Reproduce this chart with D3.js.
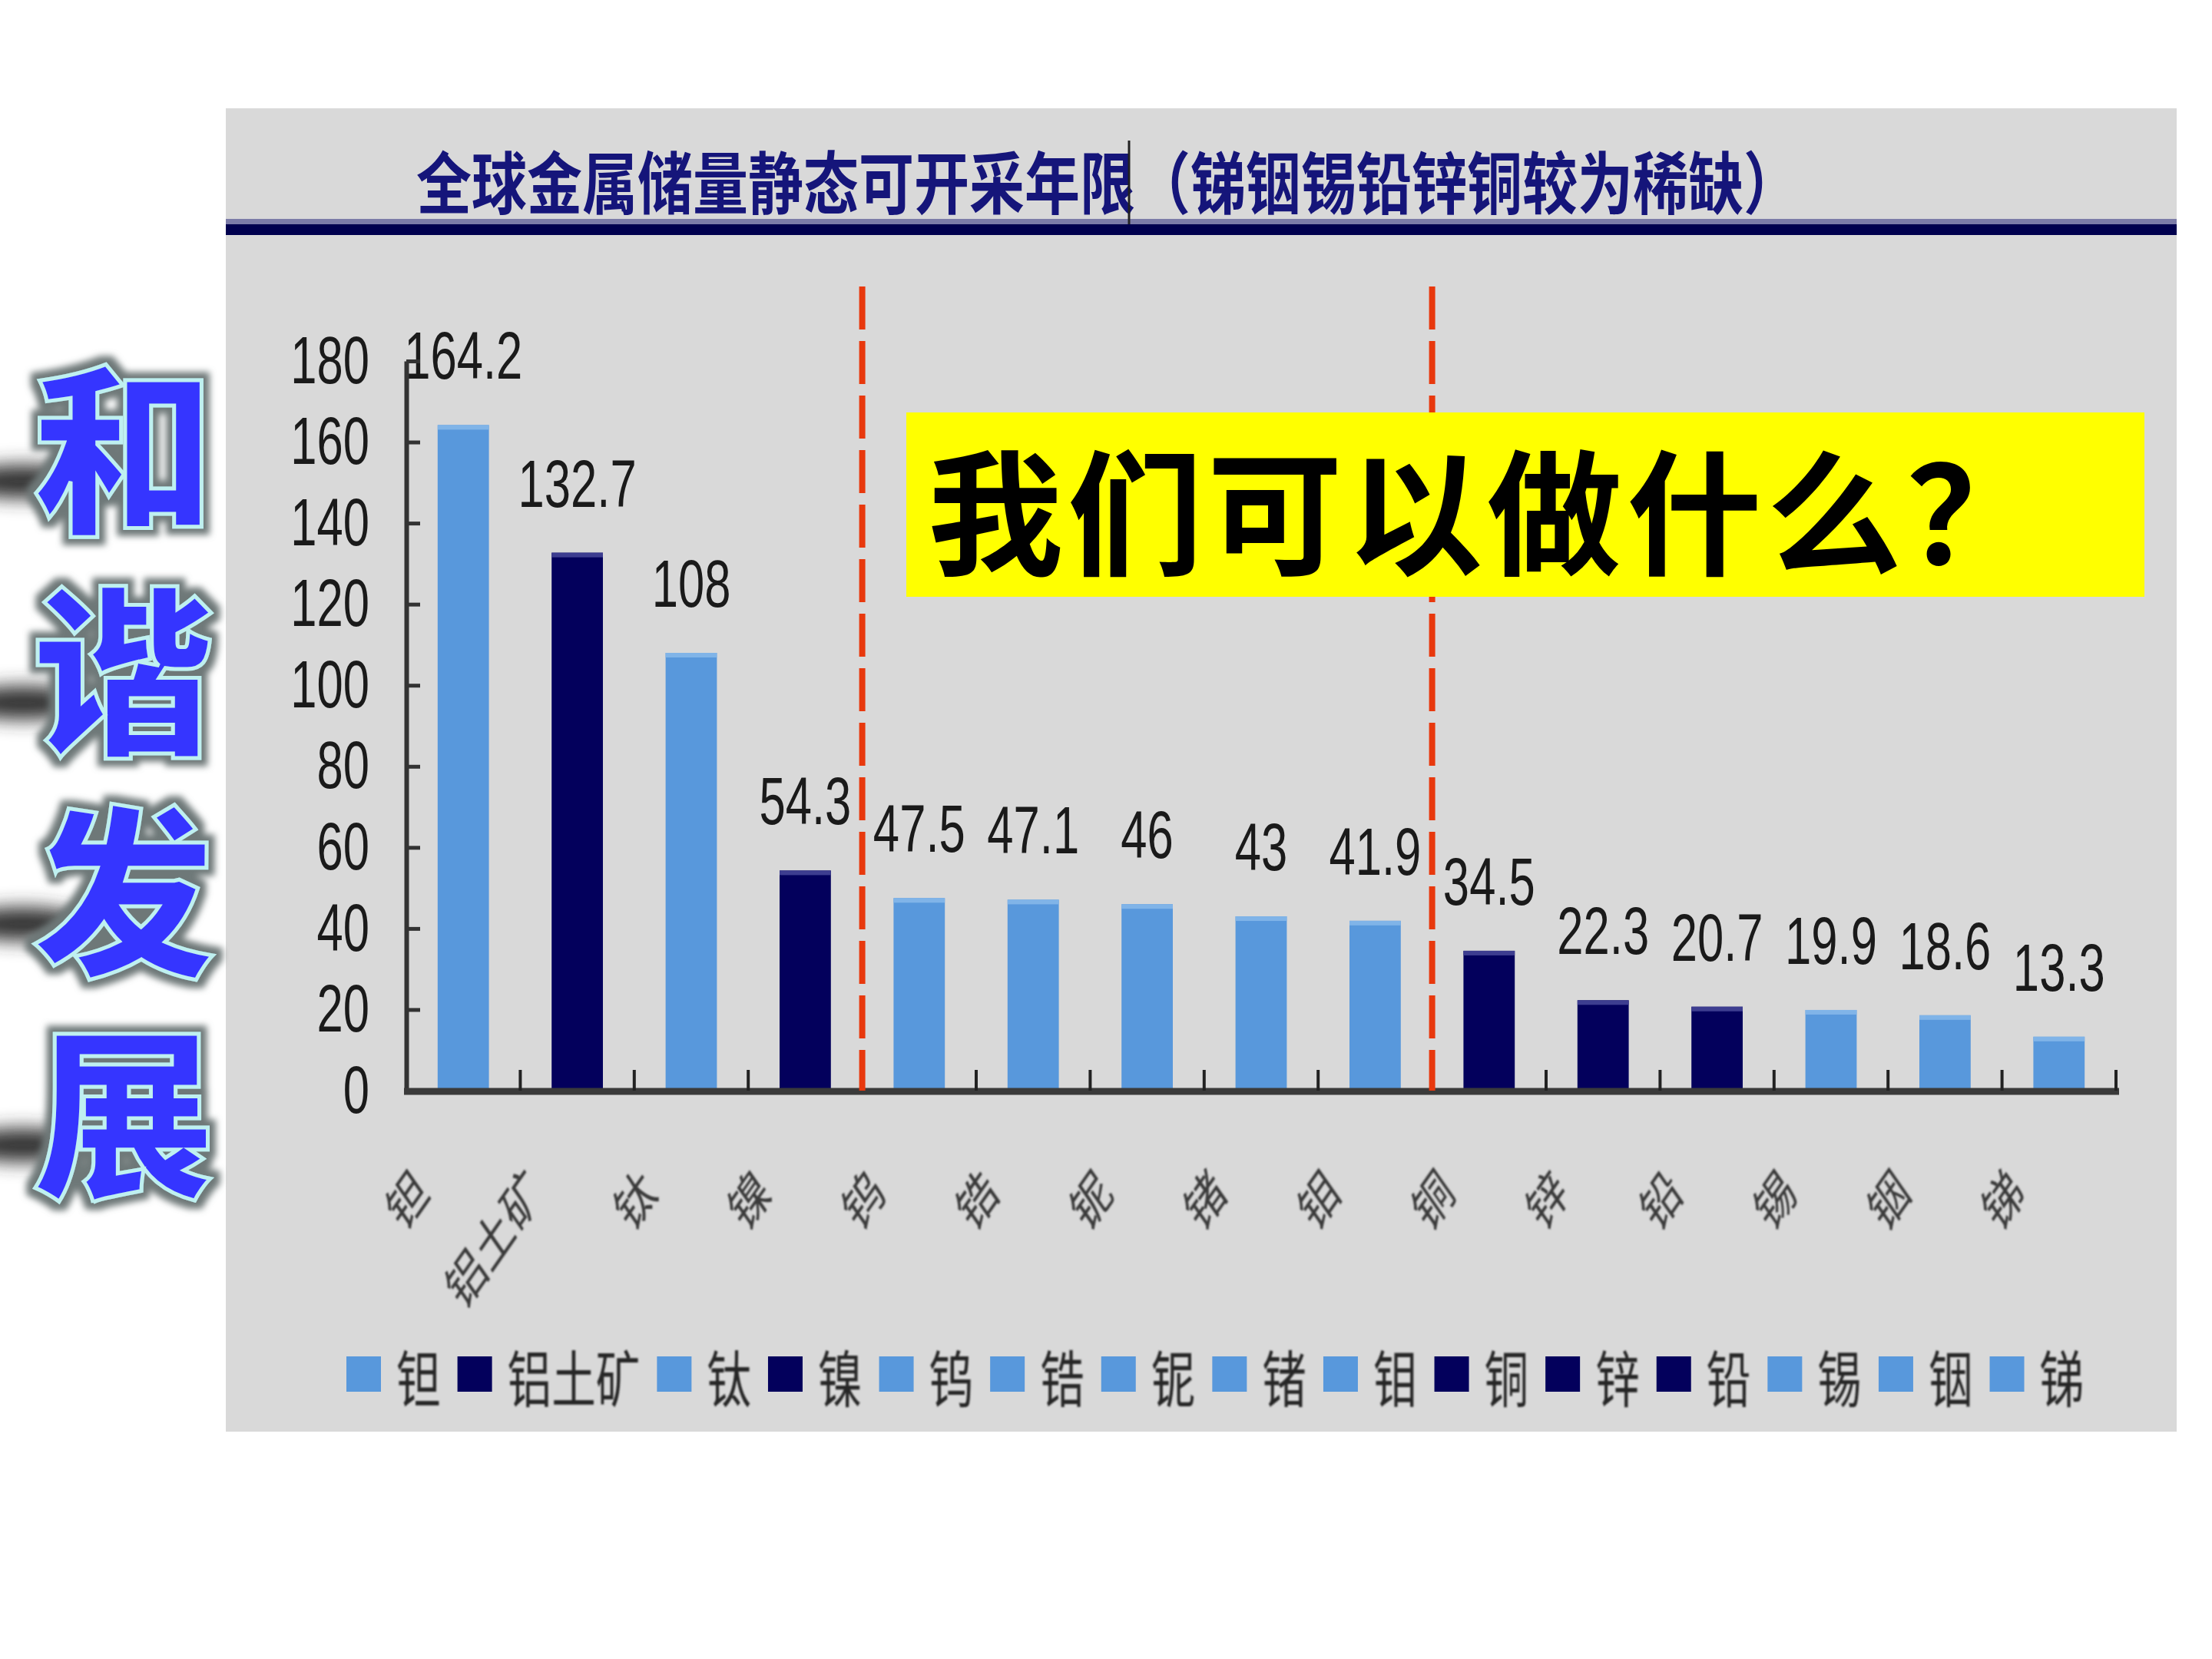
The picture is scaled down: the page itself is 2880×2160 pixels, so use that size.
<!DOCTYPE html>
<meta charset="utf-8">
<style>
body { margin: 0; background: #fff; }
svg { display: block; }
text { font-family: "Liberation Sans", Arial, sans-serif; }
.cjk { font-family: "Noto Sans CJK SC", sans-serif; }
</style>
<body>
<script src="https://d3js.org/d3.v7.min.js"></script>
<script>

// values
var categories = ["钽", "铝土矿", "钛", "镍", "钨", "锆", "铌", "锗", "钼", "铜", "锌", "铅", "锡", "铟", "锑"];
var values = [164.2, 132.7, 108, 54.3, 47.5, 47.1, 46, 43, 41.9, 34.5, 22.3, 20.7, 19.9, 18.6, 13.3];
var shades = ["light", "dark", "light", "dark", "light", "light", "light", "light", "light",
              "dark", "dark", "dark", "light", "light", "light"];
var dividers = ["镍", "钼"];   // red dashed line right after these
var yTicks = [0, 20, 40, 60, 80, 100, 120, 140, 160, 180];
var title = "全球金属储量静态可开采年限（锑铟锡铅锌铜较为稀缺）";
var question = "我们可以做什么？";
var sideWords = ["和", "谐", "发", "展"];

var W = 2880, H = 2160;
var colour = {light: "#5898dc", dark: "#03005c"};
var topEdge = {light: "#80b4e8", dark: "#3d3d90"};

var data = categories.map(function(c, i) { return {cat: c, v: values[i], shade: shades[i]}; });

var svg = d3.select("body").append("svg")
    .attr("width", W)
    .attr("height", H);

var defs = svg.append("defs");
var glow = defs.append("filter").attr("id", "glow")
    .attr("x", "-20%").attr("y", "-20%").attr("width", "140%").attr("height", "140%");
glow.append("feMorphology").attr("in", "SourceAlpha").attr("operator", "dilate").attr("radius", 8).attr("result", "d");
glow.append("feGaussianBlur").attr("in", "d").attr("stdDeviation", 4).attr("result", "b");
glow.append("feFlood").attr("flood-color", "#6e7878");
glow.append("feComposite").attr("in2", "b").attr("operator", "in").attr("result", "g");
var m = glow.append("feMerge");
m.append("feMergeNode").attr("in", "g");
m.append("feMergeNode").attr("in", "SourceGraphic");

defs.append("filter").attr("id", "smudge")
    .attr("x", "-50%").attr("y", "-100%").attr("width", "200%").attr("height", "300%")
  .append("feGaussianBlur").attr("stdDeviation", 12);

defs.append("filter").attr("id", "soft")
  .append("feGaussianBlur").attr("stdDeviation", 1.3);

// grey panel
svg.append("rect")
    .attr("x", 294).attr("y", 141)
    .attr("width", 2540).attr("height", 1723)
    .attr("fill", "#d9d9d9");

// title + rule under it
svg.append("text")
    .attr("class", "cjk")
    .attr("x", 542).attr("y", 271)
    .attr("font-size", 88)
    .attr("font-weight", 700)
    .attr("fill", "#15157a")
    .attr("textLength", 1800)
    .attr("lengthAdjust", "spacingAndGlyphs")
    .text(title);

svg.append("rect").attr("x", 294).attr("y", 285).attr("width", 2540).attr("height", 7).attr("fill", "#7c7ca8");
svg.append("rect").attr("x", 294).attr("y", 292).attr("width", 2540).attr("height", 14).attr("fill", "#00004e");
svg.append("line").attr("x1", 1470).attr("x2", 1470).attr("y1", 183).attr("y2", 292)
    .attr("stroke", "#222").attr("stroke-width", 3);

// scales
var x = d3.scaleBand()
    .domain(categories)
    .range([529, 2755])
    .paddingInner(0.55)
    .paddingOuter(0.275);

var y = d3.scaleLinear()
    .domain([0, 180])
    .range([1420, 470]);

var x0 = x.range()[0], step = x.step(), bw = x.bandwidth();

// bars
var bars = svg.append("g");
bars.selectAll("rect.bar")
    .data(data)
  .enter().append("rect")
    .attr("class", "bar")
    .attr("x", function(d) { return x(d.cat); })
    .attr("y", function(d) { return y(d.v); })
    .attr("width", bw)
    .attr("height", function(d) { return y(0) - y(d.v); })
    .attr("fill", function(d) { return colour[d.shade]; });

bars.selectAll("rect.edge")
    .data(data)
  .enter().append("rect")
    .attr("class", "edge")
    .attr("x", function(d) { return x(d.cat); })
    .attr("y", function(d) { return y(d.v); })
    .attr("width", bw)
    .attr("height", 6)
    .attr("fill", function(d) { return topEdge[d.shade]; });

// value labels
svg.append("g").selectAll("text")
    .data(data)
  .enter().append("text")
    .attr("transform", function(d) {
      return "translate(" + (x(d.cat) + bw / 2) + "," + (y(d.v) - 60) + ") scale(0.7,1)";
    })
    .attr("text-anchor", "middle")
    .attr("font-size", 88)
    .attr("fill", "#1a1a1a")
    .text(function(d) { return d.v; });

// y axis
var yAxis = svg.append("g")
    .attr("transform", "translate(" + x0 + ",0)")
    .call(d3.axisLeft(y).tickValues(yTicks).tickSize(-18).tickPadding(48).tickSizeOuter(0));
yAxis.select(".domain").attr("stroke", "#333").attr("stroke-width", 6);
yAxis.selectAll(".tick line").attr("stroke", "#333").attr("stroke-width", 5);
yAxis.selectAll(".tick text")
    .attr("font-size", 88)
    .attr("font-family", "Liberation Sans, Arial, sans-serif")
    .attr("fill", "#1a1a1a")
    .attr("x", -48 / 0.7)
    .attr("transform", "scale(0.7,1)");

// x axis baseline and upward ticks at band edges
svg.append("line")
    .attr("x1", x0 - 3).attr("x2", x.range()[1] + 4)
    .attr("y1", y(0) + 1).attr("y2", y(0) + 1)
    .attr("stroke", "#3a3a3a").attr("stroke-width", 9);

svg.append("g").selectAll("line")
    .data(d3.range(1, categories.length + 1))
  .enter().append("line")
    .attr("x1", function(k) { return x0 + k * step; })
    .attr("x2", function(k) { return x0 + k * step; })
    .attr("y1", y(0))
    .attr("y2", y(0) - 27)
    .attr("stroke", "#222")
    .attr("stroke-width", 4);

// red dashed separators
svg.append("g").selectAll("line")
    .data(dividers)
  .enter().append("line")
    .attr("x1", function(c) { return x0 + (categories.indexOf(c) + 1) * step; })
    .attr("x2", function(c) { return x0 + (categories.indexOf(c) + 1) * step; })
    .attr("y1", 373)
    .attr("y2", y(0))
    .attr("stroke", "#e8380d")
    .attr("stroke-width", 8)
    .attr("stroke-dasharray", "56,15");

// rotated category labels
svg.append("g").attr("filter", "url(#soft)").selectAll("text")
    .data(data)
  .enter().append("text")
    .attr("class", "cjk")
    .attr("transform", function(d) {
      return "translate(" + (x(d.cat) + bw / 2 - 42) + ",1556) scale(0.7,1) rotate(-45)";
    })
    .attr("text-anchor", "end")
    .attr("font-size", 72)
    .attr("fill", "#3a3a3a")
    .text(function(d) { return d.cat; });

// legend
var legend = svg.append("g");
var cursor = 451;
data.forEach(function(d) {
  legend.append("rect")
      .attr("x", cursor).attr("y", 1766)
      .attr("width", 45).attr("height", 46)
      .attr("fill", colour[d.shade]);
  var t = legend.append("text")
      .attr("class", "cjk")
      .attr("transform", "translate(" + (cursor + 65) + ",1790) scale(0.72,1)")
      .attr("dominant-baseline", "central")
      .attr("font-size", 80)
      .attr("fill", "#262626")
      .attr("filter", "url(#soft)")
      .text(d.cat);
  cursor += 45 + 20 + t.node().getComputedTextLength() * 0.72 + 22;
});

// yellow question box
svg.append("rect")
    .attr("x", 1180).attr("y", 537)
    .attr("width", 1612).attr("height", 240)
    .attr("fill", "#ffff00");
svg.append("text")
    .attr("class", "cjk")
    .attr("x", 1208).attr("y", 735)
    .attr("font-size", 176)
    .attr("font-weight", 700)
    .attr("letter-spacing", 6)
    .attr("fill", "#000")
    .text(question);

// 和谐发展 down the left side
var side = svg.append("g");
side.selectAll("ellipse")
    .data(sideWords)
  .enter().append("ellipse")
    .attr("cx", 30)
    .attr("cy", function(d, i) { return 572 + i * 288 + 55; })
    .attr("rx", 85).attr("ry", 22)
    .attr("fill", "#333")
    .attr("filter", "url(#smudge)");
side.selectAll("text")
    .data(sideWords)
  .enter().append("text")
    .attr("class", "cjk")
    .attr("x", 161)
    .attr("y", function(d, i) { return 572 + i * 288; })
    .attr("text-anchor", "middle")
    .attr("dominant-baseline", "central")
    .attr("font-size", 238)
    .attr("font-weight", 900)
    .attr("fill", "#3535ff")
    .attr("stroke", "#bff0f0")
    .attr("stroke-width", 5)
    .attr("filter", "url(#glow)")
    .text(function(d) { return d; });

</script>
</body>
